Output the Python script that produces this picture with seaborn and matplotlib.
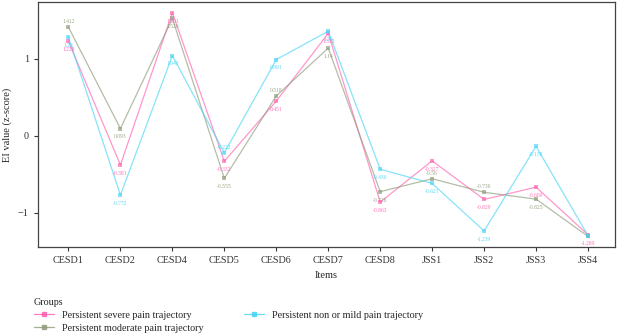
import pandas as pd
import matplotlib
matplotlib.use("Agg")
import matplotlib.pyplot as plt
import seaborn as sns

# ---- data ----
items = ["CESD1", "CESD2", "CESD4", "CESD5", "CESD6", "CESD7", "CESD8",
         "JSS1", "JSS2", "JSS3", "JSS4"]
groups = ["Persistent severe pain trajectory",
          "Persistent moderate pain trajectory",
          "Persistent non or mild pain trajectory"]
severe = [1.228, -0.381, 1.601, -0.332, 0.451, 1.332, -0.863, -0.327, -0.829, -0.669, -1.289]
moderate = [1.412, 0.093, 1.526, -0.555, 0.518, 1.14, -0.728, -0.56, -0.736, -0.825, -1.31]
nonmild = [1.28, -0.772, 1.043, -0.222, 0.991, 1.36, -0.436, -0.621, -1.239, -0.138, -1.3]

colors = ["#FF5FB0", "#8C9A78", "#45D4F7"]

# labels drawn above the point instead of below
above = {(1, 0), (1, 4), (1, 8), (2, 3), (1, 7)}
# labels hidden under others in the original (JSS4 cluster)
hidden = {(1, 10), (2, 10)}

sns.set_theme(style="ticks")
plt.rcParams["font.family"] = ["Liberation Serif", "DejaVu Serif"]

rows = []
for g, vals in zip(groups, [severe, moderate, nonmild]):
    for it, v in zip(items, vals):
        rows.append({"Items": it, "value": v, "Groups": g})
df = pd.DataFrame(rows)

fig = plt.figure(figsize=(6.2, 3.34), dpi=100)
ax = fig.add_axes([0.061, 0.26, 0.931, 0.734])

sns.lineplot(data=df, x="Items", y="value", hue="Groups", hue_order=groups,
             palette=colors, marker="s", markersize=3.2, markeredgewidth=0,
             linewidth=0.9, alpha=0.65, sort=False, ax=ax, legend=False)

for gi, vals in enumerate([severe, moderate, nonmild]):
    for xi, v in enumerate(vals):
        if (gi, xi) in hidden:
            continue
        dy = 4 if (gi, xi) in above else -6
        ax.annotate(f"{v:g}", (xi, v), xytext=(0, dy), textcoords="offset points",
                    ha="center", va="center", fontsize=4, color=colors[gi], alpha=0.9)

ax.set_xlim(-0.59, 10.52)
ax.set_ylim(-1.45, 1.74)
ax.set_yticks([-1, 0, 1])
ax.set_xlabel("Items", fontsize=7.5, labelpad=4)
ax.set_ylabel("EI value (z-score)", fontsize=7.5)
ax.tick_params(labelsize=7.3, length=3, width=0.8, colors="#333333")
for s in ax.spines.values():
    s.set_color("#444444")
    s.set_linewidth(0.9)
    s.set_visible(True)

handles = [plt.Line2D([], [], color=c, marker="s", markersize=3.2, linewidth=0.9, alpha=0.8)
           for c in colors]
leg = fig.legend(handles, groups, title="Groups", loc="upper left",
                 bbox_to_anchor=(0.045, 0.125), ncol=2, frameon=False,
                 fontsize=7.3, title_fontsize=7.3, alignment="left",
                 handlelength=2.0, handletextpad=0.8, columnspacing=3.9,
                 labelspacing=0.35, borderpad=0.1)

fig.savefig("out.png", dpi=100)
